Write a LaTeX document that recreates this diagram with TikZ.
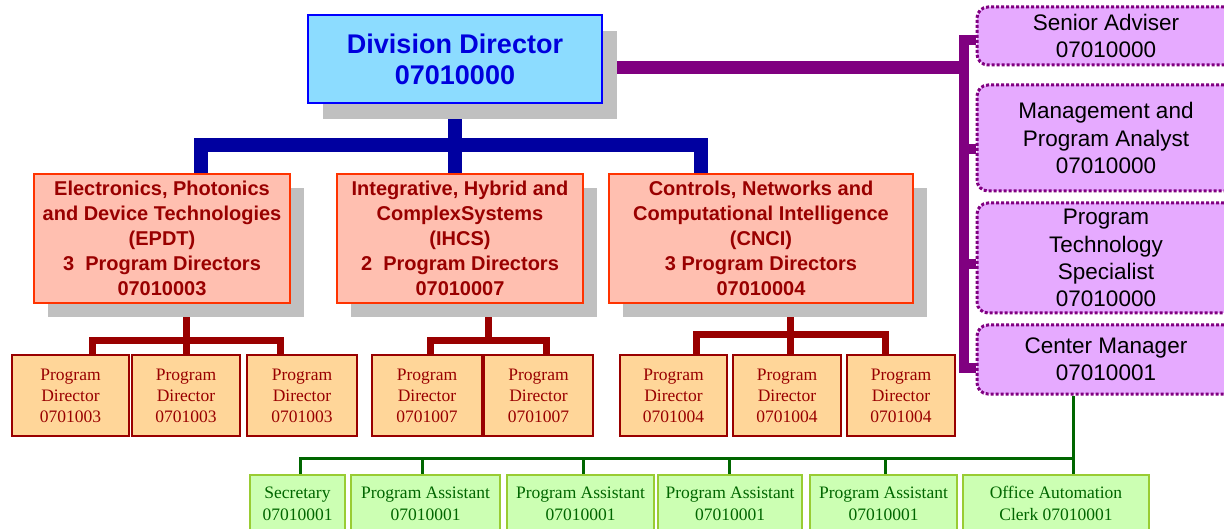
\documentclass[tikz,border=0pt]{standalone}
\usepackage{fontspec}
\setmainfont{Liberation Serif}
\setsansfont{Liberation Sans}
\usetikzlibrary{shadows,calc}
\pgfdeclarelayer{bg}
\pgfsetlayers{bg,main}

\definecolor{ddfill}{HTML}{8CDCFF}
\definecolor{ddborder}{HTML}{0000FF}
\definecolor{ddtext}{HTML}{0000DD}
\definecolor{shadowgray}{HTML}{C0C0C0}
\definecolor{divfill}{HTML}{FFBFB0}
\definecolor{divborder}{HTML}{FF3300}
\definecolor{darkred}{HTML}{990000}
\definecolor{pdfill}{HTML}{FFD699}
\definecolor{lavender}{HTML}{E6AAFF}
\definecolor{violet}{HTML}{800080}
\definecolor{navy}{HTML}{0000A0}
\definecolor{gfill}{HTML}{CCFFB3}
\definecolor{gborder}{HTML}{99CC33}
\definecolor{gdark}{HTML}{006600}

\tikzset{
  box/.style={rectangle, inner sep=0pt, align=center},
  ddbox/.style={box, fill=ddfill, draw=ddborder, line width=1.5pt,
    text=ddtext, font=\sffamily\bfseries\fontsize{27}{31}\selectfont,
    minimum width=294pt, minimum height=88pt,
    drop shadow={shadow xshift=15pt, shadow yshift=-16pt, fill=shadowgray, opacity=1}},
  divbox/.style={box, fill=divfill, draw=divborder, line width=1.5pt,
    text=darkred, font=\sffamily\bfseries\fontsize{20}{25}\selectfont,
    minimum height=129pt,
    drop shadow={shadow xshift=14pt, shadow yshift=-14pt, fill=shadowgray, opacity=1}},
  pdbox/.style={box, fill=pdfill, draw=darkred, line width=1.5pt,
    text=darkred, font=\rmfamily\fontsize{17.5}{21}\selectfont,
    minimum height=81pt},
  staffbox/.style={box, fill=lavender, draw=violet, line width=3pt,
    dash pattern=on 3pt off 2pt, rounded corners=11pt,
    text=black, font=\sffamily\fontsize{22.5}{27.2}\selectfont,
    minimum width=258pt},
  gbox/.style={box, fill=gfill, draw=gborder, line width=1.5pt,
    text=gdark, font=\rmfamily\fontsize{17.5}{22}\selectfont,
    minimum height=57pt},
  bline/.style={draw=navy, line width=14pt},
  rline/.style={draw=darkred, line width=7pt},
  pline/.style={draw=violet, line width=10pt},
  gline/.style={draw=gdark, line width=3pt},
}

\begin{document}
\begin{tikzpicture}[x=1pt,y=1pt]
\path[use as bounding box, clip] (0,0) rectangle (1224,-529);

% top of the hierarchy
\node[ddbox] (dd) at (455,-59) {Division Director\\07010000};

% divisions
\node[divbox, minimum width=256pt] (epdt) at (162,-238.5)
  {Electronics, Photonics\\and Device Technologies\\(EPDT)\\3\ \ Program Directors\\07010003};
\node[divbox, minimum width=246pt] (ihcs) at (460,-238.5)
  {Integrative, Hybrid and\\ComplexSystems\\(IHCS)\\2\ \ Program Directors\\07010007};
\node[divbox, minimum width=304pt] (cnci) at (761,-238.5)
  {Controls, Networks and\\Computational Intelligence\\(CNCI)\\3 Program Directors\\07010004};

% program directors
\node[pdbox, minimum width=117pt] (pe1) at (70.5,-395.5) {Program\\Director\\0701003};
\node[pdbox, minimum width=108pt] (pe2) at (186,-395.5) {Program\\Director\\0701003};
\node[pdbox, minimum width=110pt] (pe3) at (302,-395.5) {Program\\Director\\0701003};
\node[pdbox, minimum width=110pt] (pi1) at (427,-395.5) {Program\\Director\\0701007};
\node[pdbox, minimum width=109pt] (pi2) at (538.5,-395.5) {Program\\Director\\0701007};
\node[pdbox, minimum width=107pt] (pc1) at (673.5,-395.5) {Program\\Director\\0701004};
\node[pdbox, minimum width=108pt] (pc2) at (787,-395.5) {Program\\Director\\0701004};
\node[pdbox, minimum width=108pt] (pc3) at (901,-395.5) {Program\\Director\\0701004};

% staff column
\node[staffbox, minimum height=58pt] (sa) at (1106,-36) {Senior Adviser\\07010000};
\node[staffbox, minimum height=106pt] (ma) at (1106,-138) {Management and\\Program Analyst\\07010000};
\node[staffbox, minimum height=110pt] (pt) at (1106,-258) {Program\\Technology\\Specialist\\07010000};
\node[staffbox, minimum height=69pt] (cm) at (1106,-359.5) {Center Manager\\07010001};

% support staff
\node[gbox, minimum width=95pt] (sec) at (297.5,-503.5) {Secretary\\07010001};
\node[gbox, minimum width=149pt] (pa1) at (425.5,-503.5) {Program Assistant\\07010001};
\node[gbox, minimum width=147pt] (pa2) at (580.5,-503.5) {Program Assistant\\07010001};
\node[gbox, minimum width=144pt] (pa3) at (730,-503.5) {Program Assistant\\07010001};
\node[gbox, minimum width=147pt] (pa4) at (883.5,-503.5) {Program Assistant\\07010001};
\node[gbox, minimum width=186pt] (oac) at (1056,-503.5) {Office Automation\\Clerk 07010001};

\begin{pgfonlayer}{bg}
  % director to divisions
  \coordinate (bj) at ([yshift=-41pt]dd.south);
  \draw[bline] (dd.south) -- (dd.south |- ihcs.north);
  \draw[bline] ([xshift=39pt]epdt.north) |- (bj) -| ([xshift=-60pt]cnci.north);

  % EPDT to its program directors
  \coordinate (ej) at ([xshift=24pt,yshift=-37pt]epdt.south);
  \draw[rline] ([xshift=24pt]epdt.south) -- (ej) -- (pe2.north);
  \draw[rline] ([xshift=21.5pt]pe1.north) |- (ej) -| ([xshift=-22pt]pe3.north);

  % IHCS to its program directors
  \coordinate (ij) at ([xshift=28pt,yshift=-37pt]ihcs.south);
  \draw[rline] ([xshift=28pt]ihcs.south) -- (ij);
  \draw[rline] ([xshift=3.5pt]pi1.north) |- (ij) -| ([xshift=8pt]pi2.north);

  % CNCI to its program directors
  \coordinate (cj) at ([xshift=29pt,yshift=-30.5pt]cnci.south);
  \draw[rline] ([xshift=29pt]cnci.south) -- (cj) -- ([xshift=3pt]pc2.north);
  \draw[rline] ([xshift=22.5pt]pc1.north) |- (cj) -| ([xshift=-16pt]pc3.north);

  % director to staff column
  \coordinate (vx) at (964,0);
  \coordinate (dj) at ([yshift=-8.5pt]dd.east);
  \draw[pline, line width=13pt] (dj) -- (dj -| vx);
  \coordinate (saj) at ([yshift=-4pt]sa.west);
  \coordinate (maj) at ([yshift=-11pt]ma.west);
  \coordinate (ptj) at ([yshift=-6pt]pt.west);
  \coordinate (cmj) at ([yshift=-8.5pt]cm.west);
  \draw[pline] (saj) -| (vx |- cmj) -- (cmj);
  \draw[pline] (maj) -- (maj -| vx);
  \draw[pline] (ptj) -- (ptj -| vx);

  % center manager to support staff
  \coordinate (gj) at ([xshift=-32.5pt,yshift=-62.5pt]cm.south);
  \draw[gline] ([xshift=-32.5pt]cm.south) -- (gj) -- ([xshift=17.5pt]oac.north);
  \draw[gline] ([xshift=2.5pt]sec.north) |- (gj);
  \coordinate (g1) at ([xshift=-3.5pt]pa1.north);
  \coordinate (g2) at ([xshift=2.5pt]pa2.north);
  \coordinate (g3) at ([xshift=-1pt]pa3.north);
  \coordinate (g4) at ([xshift=1.5pt]pa4.north);
  \draw[gline] (g1) -- (g1 |- gj);
  \draw[gline] (g2) -- (g2 |- gj);
  \draw[gline] (g3) -- (g3 |- gj);
  \draw[gline] (g4) -- (g4 |- gj);
\end{pgfonlayer}
\end{tikzpicture}
\end{document}
